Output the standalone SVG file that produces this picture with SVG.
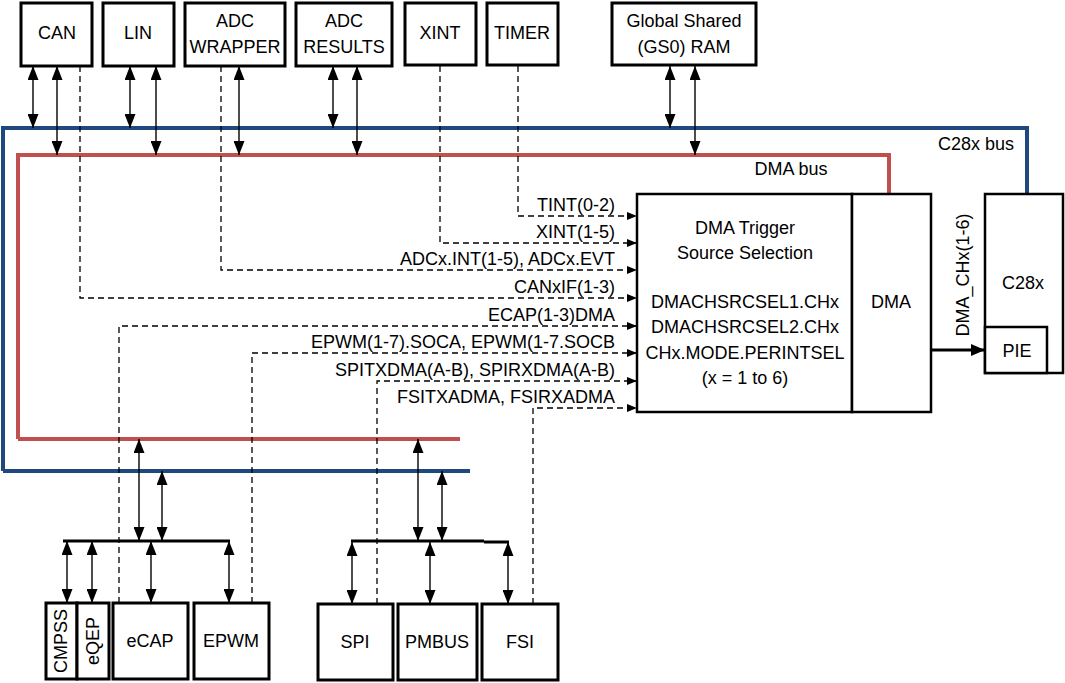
<svg xmlns="http://www.w3.org/2000/svg" width="1065" height="683" viewBox="0 0 1065 683">
<style>
text{font-family:"Liberation Sans",Arial,sans-serif;font-size:18px;fill:#000}
.c{text-anchor:middle}
.r{text-anchor:end}
.box{fill:#fff;stroke:#000;stroke-width:3}
.box2{fill:#fff;stroke:#000;stroke-width:2.5}
.bi{fill:none;stroke:#000;stroke-width:1.4;marker-start:url(#ah);marker-end:url(#ah)}
.dash{fill:none;stroke:#000;stroke-width:1.3;stroke-dasharray:6 4}
.sig{marker-end:url(#sh)}
.blue{fill:none;stroke:#1f497d;stroke-width:4}
.red{fill:none;stroke:#c0504d;stroke-width:4}
.sbus{fill:none;stroke:#000;stroke-width:3}
</style>
<defs>
<marker id="ah" markerUnits="userSpaceOnUse" markerWidth="14" markerHeight="11" refX="14" refY="5.5" orient="auto-start-reverse" viewBox="0 0 14 11"><path d="M0,0 L14,5.5 L0,11 z" fill="#000"/></marker>
<marker id="sh" markerUnits="userSpaceOnUse" markerWidth="10" markerHeight="8" refX="10" refY="4" orient="auto" viewBox="0 0 10 8"><path d="M0,0 L10,4 L0,8 z" fill="#000"/></marker>
<marker id="th" markerUnits="userSpaceOnUse" markerWidth="14" markerHeight="12" refX="14" refY="6" orient="auto" viewBox="0 0 14 12"><path d="M0,0 L14,6 L0,12 z" fill="#000"/></marker>
</defs>

<g id="buses">
<path class="blue" d="M3,471 V128 H1027 V194"/>
<path class="blue" d="M3,471 H470"/>
<path class="red" d="M18,439 V155 H889 V194"/>
<path class="red" d="M18,439 H460"/>
<text x="976" y="150" class="c">C28x bus</text>
<text x="791" y="175" class="c">DMA bus</text>
</g>

<g id="connectors">
<line class="bi" x1="33" y1="66" x2="33" y2="128"/>
<line class="bi" x1="57" y1="66" x2="57" y2="155"/>
<line class="bi" x1="130" y1="66" x2="130" y2="128"/>
<line class="bi" x1="156" y1="66" x2="156" y2="155"/>
<line class="bi" x1="239" y1="66" x2="239" y2="155"/>
<line class="bi" x1="333" y1="66" x2="333" y2="128"/>
<line class="bi" x1="357" y1="66" x2="357" y2="155"/>
<line class="bi" x1="670" y1="66" x2="670" y2="128"/>
<line class="bi" x1="695" y1="66" x2="695" y2="155"/>
<path class="dash sig" d="M518,66 V216 H637"/>
<path class="dash sig" d="M440,66 V243 H637"/>
<path class="dash sig" d="M221,66 V270 H637"/>
<path class="dash sig" d="M80,66 V298 H637"/>
<path class="dash sig" d="M119,603 V326 H637"/>
<path class="dash sig" d="M252,603 V353 H637"/>
<path class="dash sig" d="M377,604 V381 H637"/>
<path class="dash sig" d="M533,604 V408 H637"/>
<line class="sbus" x1="63" y1="541" x2="230" y2="541"/>
<line class="bi" x1="139" y1="439" x2="139" y2="541"/>
<line class="bi" x1="162" y1="471" x2="162" y2="541"/>
<line class="bi" x1="67" y1="541" x2="67" y2="603"/>
<line class="bi" x1="92" y1="541" x2="92" y2="603"/>
<line class="bi" x1="151" y1="541" x2="151" y2="603"/>
<line class="bi" x1="229" y1="541" x2="229" y2="603"/>
<line class="sbus" x1="351" y1="541" x2="484" y2="541"/>
<line class="sbus" x1="484" y1="542" x2="509" y2="542"/>
<line class="bi" x1="418" y1="439" x2="418" y2="541"/>
<line class="bi" x1="442" y1="471" x2="442" y2="541"/>
<line class="bi" x1="352" y1="542" x2="352" y2="604"/>
<line class="bi" x1="430" y1="542" x2="430" y2="604"/>
<line class="bi" x1="508" y1="542" x2="508" y2="604"/>
<line x1="931" y1="350" x2="985" y2="350" stroke="#000" stroke-width="3" marker-end="url(#th)"/>
<text transform="translate(969,275) rotate(-90)" class="c">DMA_CHx(1-6)</text>
</g>

<g id="labels">
<text x="615" y="211" class="r">TINT(0-2)</text>
<text x="615" y="238" class="r">XINT(1-5)</text>
<text x="615" y="265" class="r">ADCx.INT(1-5), ADCx.EVT</text>
<text x="615" y="293" class="r">CANxIF(1-3)</text>
<text x="615" y="321" class="r">ECAP(1-3)DMA</text>
<text x="615" y="348" class="r">EPWM(1-7).SOCA, EPWM(1-7.SOCB</text>
<text x="615" y="376" class="r">SPITXDMA(A-B), SPIRXDMA(A-B)</text>
<text x="615" y="403" class="r">FSITXADMA, FSIRXADMA</text>
</g>

<g id="can"><rect class="box" x="21" y="3" width="71" height="63"/><text x="57" y="39" class="c">CAN</text></g>
<g id="lin"><rect class="box" x="103" y="3" width="71" height="63"/><text x="138" y="39" class="c">LIN</text></g>
<g id="adc-wrapper"><rect class="box" x="185" y="3" width="100" height="63"/><text x="235" y="27" class="c">ADC</text><text x="235" y="53" class="c">WRAPPER</text></g>
<g id="adc-results"><rect class="box" x="296" y="3" width="96" height="63"/><text x="344" y="27" class="c">ADC</text><text x="344" y="53" class="c">RESULTS</text></g>
<g id="xint"><rect class="box" x="405" y="3" width="71" height="62"/><text x="440" y="39" class="c">XINT</text></g>
<g id="timer"><rect class="box" x="487" y="3" width="71" height="62"/><text x="522" y="39" class="c">TIMER</text></g>
<g id="gs0"><rect class="box" x="612" y="3" width="144" height="62"/><text x="684" y="27" class="c">Global Shared</text><text x="684" y="53" class="c">(GS0) RAM</text></g>

<g id="dma-trigger"><rect class="box2" x="637" y="194" width="215" height="218"/>
<text x="745" y="234" class="c">DMA Trigger</text>
<text x="745" y="259" class="c">Source Selection</text>
<text x="745" y="308" class="c">DMACHSRCSEL1.CHx</text>
<text x="745" y="333" class="c">DMACHSRCSEL2.CHx</text>
<text x="745" y="359" class="c">CHx.MODE.PERINTSEL</text>
<text x="745" y="384" class="c">(x = 1 to 6)</text>
</g>
<g id="dma"><rect class="box2" x="852" y="194" width="79" height="218"/><text x="891" y="308" class="c">DMA</text></g>
<g id="c28x"><rect class="box2" x="985" y="194" width="78" height="179"/><text x="1023" y="289" class="c">C28x</text></g>
<g id="pie"><rect class="box2" x="985" y="327" width="62" height="46"/><text x="1017" y="357" class="c">PIE</text></g>

<g id="cmpss"><rect class="box" x="46" y="603" width="31" height="76"/><text transform="translate(67,641) rotate(-90)" class="c">CMPSS</text></g>
<g id="eqep"><rect class="box" x="77" y="603" width="32" height="76"/><text transform="translate(99,641) rotate(-90)" class="c">eQEP</text></g>
<g id="ecap"><rect class="box" x="113" y="603" width="75" height="76"/><text x="150" y="647" class="c">eCAP</text></g>
<g id="epwm"><rect class="box" x="194" y="603" width="75" height="76"/><text x="231" y="647" class="c">EPWM</text></g>
<g id="spi"><rect class="box" x="318" y="604" width="75" height="76"/><text x="355" y="648" class="c">SPI</text></g>
<g id="pmbus"><rect class="box" x="398" y="604" width="79" height="76"/><text x="437" y="648" class="c">PMBUS</text></g>
<g id="fsi"><rect class="box" x="482" y="604" width="76" height="76"/><text x="520" y="648" class="c">FSI</text></g>
</svg>
